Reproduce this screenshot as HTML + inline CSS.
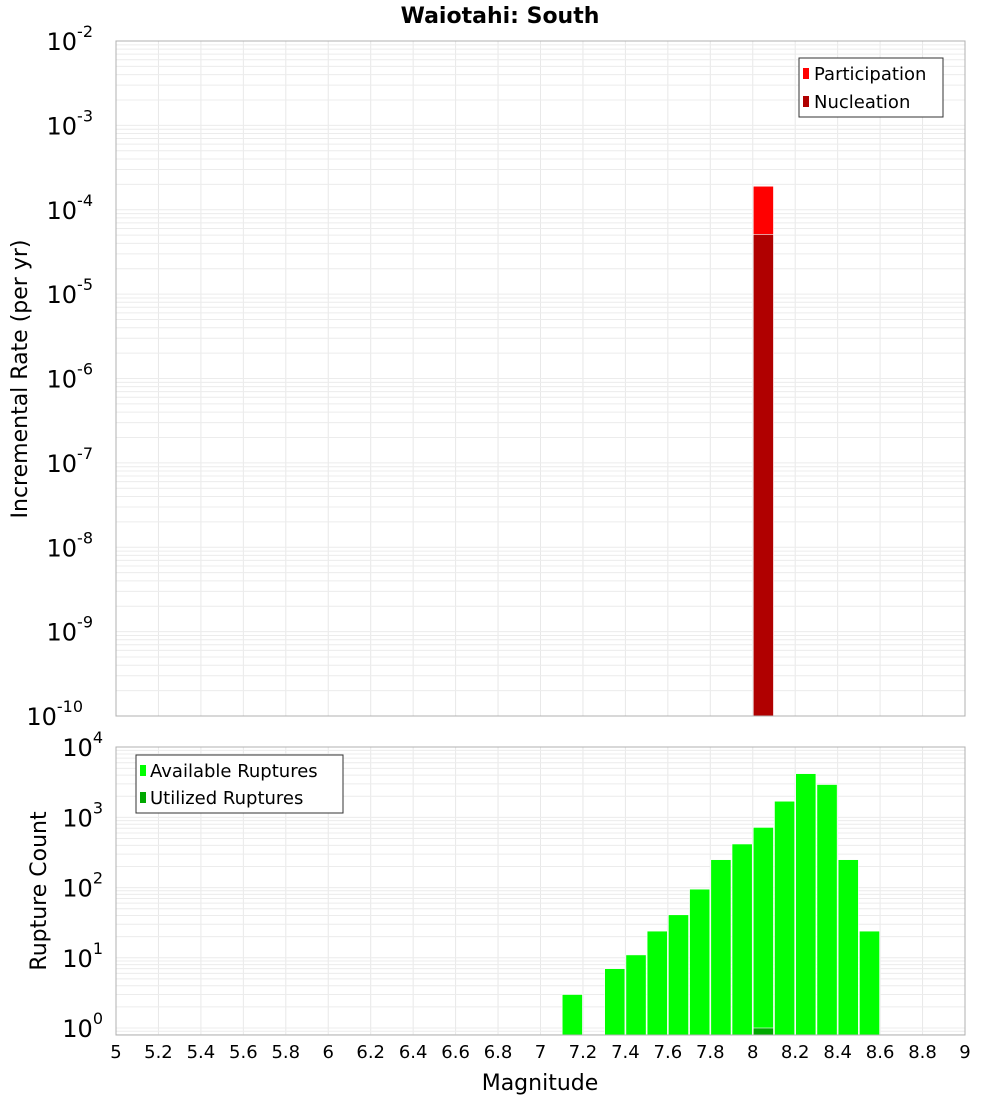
<!DOCTYPE html>
<html><head><meta charset="utf-8"><style>
body{margin:0;background:#fff;font-family:"DejaVu Sans","Liberation Sans",sans-serif;}
svg text{font-family:"DejaVu Sans","Liberation Sans",sans-serif;}
</style></head><body>
<svg id="chart" width="1000" height="1100" xmlns="http://www.w3.org/2000/svg">
<text x="500" y="23" text-anchor="middle" font-size="22" font-weight="bold">Waiotahi: South</text>
<text transform="translate(27,379) rotate(-90)" text-anchor="middle" font-size="22">Incremental Rate (per yr)</text>
<text transform="translate(46,891) rotate(-90)" text-anchor="middle" font-size="22">Rupture Count</text>
<text x="540" y="1090" text-anchor="middle" font-size="22">Magnitude</text>
<g id="grid"></g>
<g id="bars"></g>
<g id="axes"></g>
<g>
<rect x="799" y="58" width="144" height="59" fill="#fff" stroke="#333" stroke-width="1"/>
<rect x="803" y="68" width="6" height="11" fill="#ff0000"/>
<text x="814" y="80" font-size="18">Participation</text>
<rect x="803" y="96" width="6" height="11" fill="#b00000"/>
<text x="814" y="108" font-size="18">Nucleation</text>
</g>
<g>
<rect x="136" y="755" width="207" height="58" fill="#fff" stroke="#333" stroke-width="1"/>
<rect x="140" y="765" width="6" height="11" fill="#00ff00"/>
<text x="150" y="777" font-size="18">Available Ruptures</text>
<rect x="140" y="792" width="6" height="11" fill="#00a800"/>
<text x="150" y="804" font-size="18">Utilized Ruptures</text>
</g>
</svg>
<script>
const participationMags=[8.0];
const participationRates=[1.9e-4];
const nucleationMags=[8.0];
const nucleationRates=[5.1e-5];
const availableMags=[7.1,7.3,7.4,7.5,7.6,7.7,7.8,7.9,8.0,8.1,8.2,8.3,8.4,8.5];
const availableCounts=[3,7,11,24,41,95,250,418,720,1700,4200,2940,250,24];
const utilizedMags=[8.0];
const utilizedCounts=[1];
const xTicks=[5,5.2,5.4,5.6,5.8,6,6.2,6.4,6.6,6.8,7,7.2,7.4,7.6,7.8,8,8.2,8.4,8.6,8.8,9];
const topExps=[-2,-3,-4,-5,-6,-7,-8,-9,-10];
const botExps=[0,1,2,3,4];

const NS="http://www.w3.org/2000/svg";
const L=116,R=965;
const T1=41,B1=716,T2=747,B2=1035;
const x=m=>L+(m-5)/4*(R-L);
const yTop=v=>T1+(-2-Math.log10(v))*(B1-T1)/8;
const yBot=v=>1028-Math.log10(v)*70.2;
function mk(tag,attrs,parent){const e=document.createElementNS(NS,tag);for(const k in attrs)e.setAttribute(k,attrs[k]);document.getElementById(parent).appendChild(e);return e;}
// grid
for(const t of xTicks){
  for(const [a,b] of [[T1,B1],[T2,B2]]){
    const g=mk('line',{x1:x(t),x2:x(t),y1:a,y2:b,stroke:'#e8e8e8','stroke-width':1},'grid');
    
    
  }
}
for(let e=-10;e<-2;e++)for(let k=1;k<10;k++){
  const yy=yTop(k*Math.pow(10,e));
  const g=mk('line',{x1:L,x2:R,y1:yy,y2:yy,stroke:'#ececec','stroke-width':1},'grid');
  
  
}
for(let e=-1;e<4;e++)for(let k=1;k<10;k++){
  const yy=yBot(k*Math.pow(10,e));
  if(yy<T2||yy>B2)continue;
  const g=mk('line',{x1:L,x2:R,y1:yy,y2:yy,stroke:'#ececec','stroke-width':1},'grid');
  
  
}
// bars
function bar(m,top,bottom,color,name){
  const r=mk('rect',{x:x(m)+0.5,y:top,width:x(m+0.1)-x(m)-1,height:bottom-top,fill:color,stroke:'#ffffff','stroke-width':0.6},'bars');
  
  
}
participationMags.forEach((m,i)=>bar(m,yTop(participationRates[i]),B1,'#ff0000','participation-bar'));
nucleationMags.forEach((m,i)=>bar(m,yTop(nucleationRates[i]),B1,'#b00000','nucleation-bar'));
availableMags.forEach((m,i)=>bar(m,yBot(availableCounts[i]),B2,'#00ff00','available-ruptures-bar'));
utilizedMags.forEach((m,i)=>bar(m,yBot(utilizedCounts[i]),B2,'#00a800','utilized-ruptures-bar'));
// frames
for(const [a,b,n] of [[T1,B1,'top-plot-frame'],[T2,B2,'bottom-plot-frame']]){
  const f=mk('rect',{x:L,y:a,width:R-L,height:b-a,fill:'none',stroke:'#b0b0b0','stroke-width':1},'axes');
  
  
}
// tick labels
function expLabel(px,py,e,name){
  const t=mk('text',{x:px,y:py,'text-anchor':'end','font-size':24},'axes');
  
  
  t.textContent='10';
  const s=document.createElementNS(NS,'tspan');
  s.setAttribute('dy','-13');s.setAttribute('font-size','16');
  s.textContent=String(e);
  t.appendChild(s);
  t.setAttribute('x',px-(String(e).length*10));
}
topExps.forEach(e=>expLabel(113,yTop(Math.pow(10,e))+9,e,'top-y-tick-label'));
botExps.forEach(e=>expLabel(113,yBot(Math.pow(10,e))+9,e,'bottom-y-tick-label'));
xTicks.forEach(t=>{
  const tx=mk('text',{x:x(t),y:1058,'text-anchor':'middle','font-size':18},'axes');
  
  
  tx.textContent=String(t);
});
</script>
</body></html>
